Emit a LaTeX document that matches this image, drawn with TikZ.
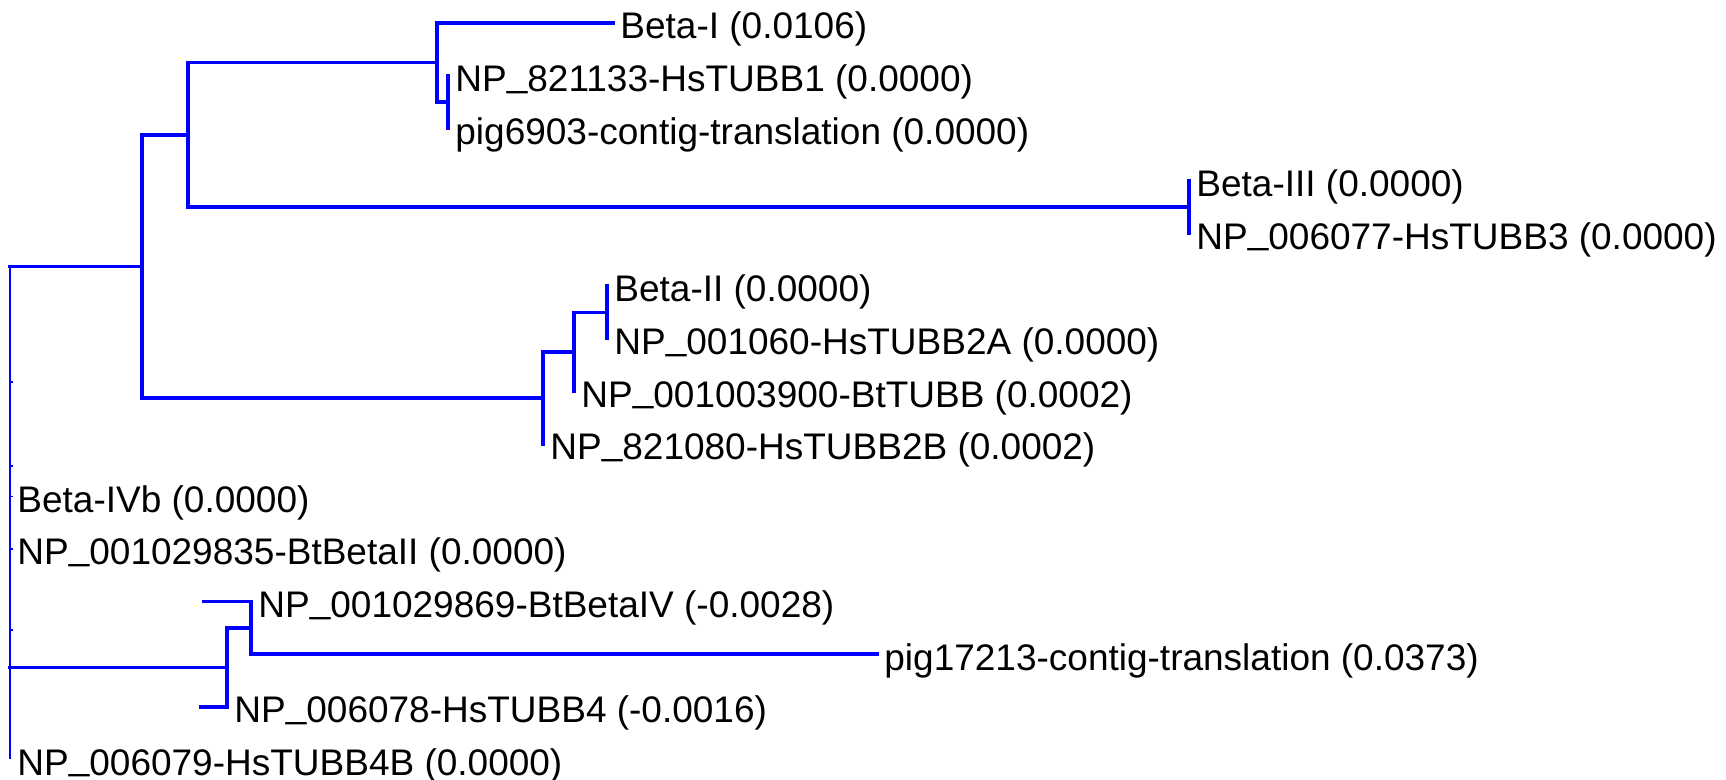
\documentclass[tikz,border=0pt]{standalone}
\usepackage{fontspec}
\setmainfont{Liberation Sans}
\newcommand{\usc}{\raisebox{0.15em}{\_}}

\begin{document}
\begin{tikzpicture}[x=0.5pt, y=-0.5pt,
	branch/.style={blue, line width=1.75pt, line cap=rect},
	rootline/.style={blue, line width=1.1pt},
	lbl/.style={anchor=base west, inner sep=0pt, xshift=3.5pt, yshift=-8pt, font=\fontsize{18.5}{20}\selectfont}]
	\useasboundingbox (0,0) rectangle (1726,780);
	%Internal nodes
	\coordinate (root) at (10,266.3);
	\coordinate (nA) at (142,266.3);
	\coordinate (nB) at (188,134.8);
	\coordinate (nC) at (437,62.5);
	\coordinate (nD) at (448,101.9);
	\coordinate (nE) at (1189,207.1);
	\coordinate (nF) at (543,397.8);
	\coordinate (nG) at (574,351.8);
	\coordinate (nH) at (607,312.3);
	\coordinate (nI) at (227,667.4);
	\coordinate (nJ) at (251,627.9);
	%Tips
	\coordinate (t1) at (613,23);
	\coordinate (t2) at (448,75.6);
	\coordinate (t3) at (448,128.2);
	\coordinate (t4) at (1189,180.8);
	\coordinate (t5) at (1189,233.4);
	\coordinate (t6) at (607,286);
	\coordinate (t7) at (607,338.6);
	\coordinate (t8) at (574,391.2);
	\coordinate (t9) at (543,443.8);
	\coordinate (t10) at (10,496.4);
	\coordinate (t11) at (10,549);
	\coordinate (t12) at (204,601.6);
	\coordinate (t13) at (877,654.2);
	\coordinate (t14) at (201,706.8);
	\coordinate (t15) at (10,759.4);
	%Branches
	\draw[rootline] (root) -- (t15);
	\draw[branch] (root) -- (nA);
	\draw[branch] (nA) |- (nB);
	\draw[branch] (nA) |- (nF);
	\draw[branch] (nB) |- (nC);
	\draw[branch] (nB) |- (nE);
	\draw[branch] (nC) |- (t1);
	\draw[branch] (nC) |- (nD);
	\draw[branch] (nD) -- (t2);
	\draw[branch] (nD) -- (t3);
	\draw[branch] (nE) -- (t4);
	\draw[branch] (nE) -- (t5);
	\draw[branch] (nF) |- (nG);
	\draw[branch] (nF) |- (t9);
	\draw[branch] (nG) |- (nH);
	\draw[branch] (nG) |- (t8);
	\draw[branch] (nH) -- (t6);
	\draw[branch] (nH) -- (t7);
	\draw[branch] (root |- nI) -- (nI);
	\draw[branch] (nI) |- (nJ);
	\draw[branch] (nI) |- (t14);
	\draw[branch] (nJ) |- (t12);
	\draw[branch] (nJ) |- (t13);
	\foreach \y in {382,466,496.4,549,630}
		\draw[blue, line width=0.8pt] (10,\y) -- (12.5,\y);
	%Labels
	\node[lbl] (betaI) at (t1) {Beta-I (0.0106)};
	\node[lbl] (hsTUBB1) at (t2) {NP\usc 821133-HsTUBB1 (0.0000)};
	\node[lbl] (pigA) at (t3) {pig6903-contig-translation (0.0000)};
	\node[lbl] (betaIII) at (t4) {Beta-III (0.0000)};
	\node[lbl] (hsTUBB3) at (t5) {NP\usc 006077-HsTUBB3 (0.0000)};
	\node[lbl] (betaII) at (t6) {Beta-II (0.0000)};
	\node[lbl] (hsTUBB2A) at (t7) {NP\usc 001060-HsTUBB2A (0.0000)};
	\node[lbl] (btTUBB) at (t8) {NP\usc 001003900-BtTUBB (0.0002)};
	\node[lbl] (hsTUBB2B) at (t9) {NP\usc 821080-HsTUBB2B (0.0002)};
	\node[lbl] (betaIVb) at (t10) {Beta-IVb (0.0000)};
	\node[lbl] (btBetaII) at (t11) {NP\usc 001029835-BtBetaII (0.0000)};
	\node[lbl] (btBetaIV) at (nJ |- t12) {NP\usc 001029869-BtBetaIV (-0.0028)};
	\node[lbl] (pigB) at (t13) {pig17213-contig-translation (0.0373)};
	\node[lbl] (hsTUBB4) at (nI |- t14) {NP\usc 006078-HsTUBB4 (-0.0016)};
	\node[lbl] (hsTUBB4B) at (t15) {NP\usc 006079-HsTUBB4B (0.0000)};
\end{tikzpicture}
\end{document}
